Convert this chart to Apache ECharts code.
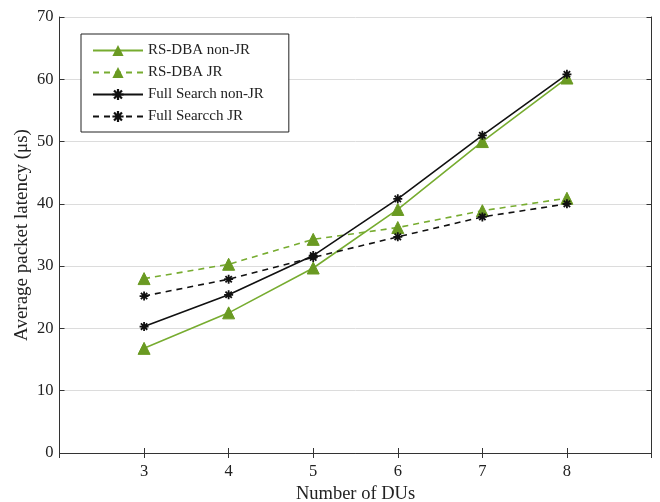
<!DOCTYPE html>
<html><head><meta charset="utf-8">
<script src="https://cdn.jsdelivr.net/npm/echarts@6/dist/echarts.min.js"></script>
<style>html,body{margin:0;padding:0;background:#fff}#c{width:660px;height:502px}</style>
</head><body><div id="c"></div>
<script>
const duCounts = [3, 4, 5, 6, 7, 8];
const rsDbaNonJR = [16.8, 22.5, 29.7, 39.1, 50.0, 60.2];
const rsDbaJR = [28.0, 30.3, 34.3, 36.2, 38.9, 40.9];
const fullNonJR = [20.3, 25.4, 31.7, 40.8, 51.0, 60.8];
const fullJR = [25.2, 27.9, 31.4, 34.7, 37.9, 40.0];
const seriesNames = ['RS-DBA non-JR', 'RS-DBA JR', 'Full Search non-JR', 'Full Searcch JR'];
const yTicks = [0, 10, 20, 30, 40, 50, 60, 70];

function asteriskPath() {
  const L = 5, T = 1.0;
  let p = '';
  [0, 45, 90, 135].forEach(a => {
    const r = a * Math.PI / 180, c = Math.cos(r), s = Math.sin(r);
    const pts = [[-L, -T], [L, -T], [L, T], [-L, T]].map(([x, y]) => [(x * c - y * s).toFixed(2), (x * s + y * c).toFixed(2)]);
    p += 'M' + pts.map(q => q.join(',')).join('L') + 'Z';
  });
  return 'path://' + p;
}
const ast = asteriskPath();
const green = '#77AC30', greenMk = '#6A9A22';
const axisCol = '#333';
const font = '"Liberation Serif","Times New Roman",serif';
const pairs = arr => duCounts.map((x, i) => [x, arr[i]]);

const chart = echarts.init(document.getElementById('c'), null, {renderer: 'canvas'});
chart.setOption({
  animation: false,
  backgroundColor: '#fff',
  textStyle: {fontFamily: font},
  grid: {left: 59.5, right: 8.5, top: 17, bottom: 49, containLabel: false, outerBoundsMode: 'none'},
  legend: {
    orient: 'vertical', left: 81, top: 34,
    padding: [9, 25, 8, 11], itemGap: 7,
    itemWidth: 50, itemHeight: 14,
    borderColor: '#222', borderWidth: 1, backgroundColor: '#fff',
    textStyle: {fontFamily: font, fontSize: 15, color: '#222'},
    data: seriesNames
  },
  xAxis: [{
    type: 'value', min: 2, max: 9, interval: 1,
    name: 'Number of DUs', nameLocation: 'middle', nameGap: 31,
    nameTextStyle: {fontFamily: font, fontSize: 18.5, color: '#222'},
    axisLine: {show: true, lineStyle: {color: axisCol, width: 1}},
    axisTick: {show: true, inside: true, length: 5, lineStyle: {color: axisCol}},
    axisLabel: {fontFamily: font, fontSize: 16.5, color: '#222', margin: 10,
      formatter: v => (v >= 3 && v <= 8) ? String(v) : ''},
    splitLine: {show: false}
  }, {
    type: 'value', min: 2, max: 9, interval: 1, position: 'top',
    axisLine: {show: true, lineStyle: {color: axisCol, width: 1}},
    axisTick: {show: true, inside: true, length: 5, lineStyle: {color: axisCol}},
    axisLabel: {show: false}, splitLine: {show: false}
  }],
  yAxis: [{
    type: 'value', min: 0, max: 70, interval: 10,
    name: 'Average packet latency (μs)', nameLocation: 'middle', nameGap: 28, nameMoveOverlap: false,
    nameTextStyle: {fontFamily: font, fontSize: 19, color: '#222'},
    axisLine: {show: true, lineStyle: {color: axisCol, width: 1}},
    axisTick: {show: true, inside: true, length: 5, lineStyle: {color: axisCol}},
    axisLabel: {fontFamily: font, fontSize: 16.5, color: '#222', margin: 6},
    splitLine: {show: true, lineStyle: {color: '#dcdcdc', width: 1}}
  }, {
    type: 'value', min: 0, max: 70, interval: 10, position: 'right',
    axisLine: {show: true, lineStyle: {color: axisCol, width: 1}},
    axisTick: {show: true, inside: true, length: 5, lineStyle: {color: axisCol}},
    axisLabel: {show: false}, splitLine: {show: false}
  }],
  series: [
    {name: seriesNames[0], type: 'line', data: pairs(rsDbaNonJR), symbol: 'triangle', symbolSize: 12,
      lineStyle: {color: green, width: 1.6}, itemStyle: {color: greenMk, borderColor: greenMk}, z: 3},
    {name: seriesNames[1], type: 'line', data: pairs(rsDbaJR), symbol: 'triangle', symbolSize: 12,
      lineStyle: {color: green, width: 1.6, type: [6, 5]}, itemStyle: {color: greenMk, borderColor: greenMk}, z: 3},
    {name: seriesNames[2], type: 'line', data: pairs(fullNonJR), symbol: ast, symbolSize: 9,
      lineStyle: {color: '#111', width: 1.6}, itemStyle: {color: '#111'}, z: 4},
    {name: seriesNames[3], type: 'line', data: pairs(fullJR), symbol: ast, symbolSize: 9,
      lineStyle: {color: '#111', width: 1.6, type: [6, 5]}, itemStyle: {color: '#111'}, z: 4}
  ]
});
</script></body></html>
